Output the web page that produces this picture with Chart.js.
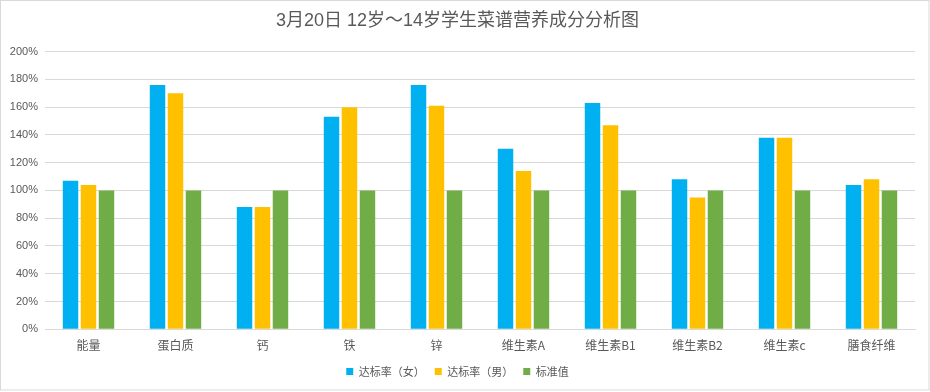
<!DOCTYPE html>
<html>
<head>
<meta charset="utf-8">
<script src="https://cdn.jsdelivr.net/npm/chart.js@4/dist/chart.umd.min.js"></script>
<style>
html,body{margin:0;padding:0;background:#fff;}
#wrap{position:relative;width:930px;height:392px;}
</style>
</head>
<body>
<div id="wrap"><canvas id="c" width="930" height="392"></canvas></div>
<script>
const titleText = '3月20日 12岁～14岁学生菜谱营养成分分析图';
const categories = ['能量','蛋白质','钙','铁','锌','维生素A','维生素B1','维生素B2','维生素c','膳食纤维'];
const femaleRate = [107, 176, 88, 153, 176, 130, 163, 108, 138, 104];
const maleRate = [104, 170, 88, 160, 161, 114, 147, 95, 138, 108];
const standardValue = [100, 100, 100, 100, 100, 100, 100, 100, 100, 100];
const seriesNames = ['达标率（女）', '达标率（男）', '标准值'];
const seriesColors = ['#00B0F0', '#FFC000', '#70AD47'];

const borderPlugin = {
  id: 'frame',
  afterDraw(chart) {
    const ctx = chart.ctx;
    ctx.save();
    ctx.strokeStyle = '#d9d9d9';
    ctx.lineWidth = 1;
    ctx.strokeRect(0.5, 0.5, 928.5, 389.5);
    ctx.restore();
  }
};

Chart.defaults.font.family = '"Liberation Sans", "Noto Sans CJK SC", sans-serif';
Chart.defaults.color = '#595959';

new Chart(document.getElementById('c'), {
  type: 'bar',
  data: {
    labels: categories,
    datasets: [
      { label: seriesNames[0], data: femaleRate, backgroundColor: seriesColors[0] },
      { label: seriesNames[1], data: maleRate, backgroundColor: seriesColors[1] },
      { label: seriesNames[2], data: standardValue, backgroundColor: seriesColors[2] }
    ]
  },
  plugins: [borderPlugin],
  options: {
    responsive: false,
    animation: false,
    devicePixelRatio: 1,
    datasets: { bar: { barPercentage: 0.86, categoryPercentage: 0.62 } },
    layout: { padding: { left: 0, right: 15, top: 0, bottom: 5 } },
    plugins: {
      title: {
        display: true,
        text: titleText,
        color: '#595959',
        font: { size: 18, weight: 'normal', family: '"Liberation Sans", "Noto Sans CJK SC", sans-serif' },
        padding: { top: 10, bottom: 20 }
      },
      legend: {
        position: 'bottom',
        labels: {
          boxWidth: 7,
          boxHeight: 7,
          padding: 10,
          color: '#595959',
          font: { size: 11, family: '"Noto Sans CJK SC", sans-serif' }
        }
      },
      tooltip: { enabled: false }
    },
    scales: {
      x: {
        afterFit(scale) { scale.height = 26.7; },
        grid: { display: false, drawTicks: false },
        border: { display: true, color: '#d9d9d9' },
        ticks: { padding: 8.5, color: '#595959', font: { size: 12, family: '"Noto Sans CJK SC", sans-serif' }, maxRotation: 0 }
      },
      y: {
        min: 0,
        max: 200,
        afterFit(scale) { scale.width = 45; },
        grid: { color: '#d9d9d9', drawTicks: false },
        border: { display: false },
        ticks: {
          stepSize: 20,
          padding: 7,
          color: '#595959',
          font: { size: 11 },
          callback: v => v + '%'
        }
      }
    }
  }
});
</script>
</body>
</html>
